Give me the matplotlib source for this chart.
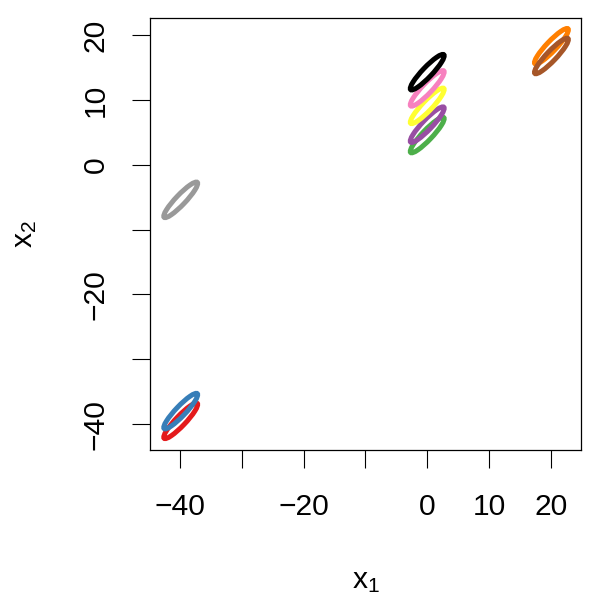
import matplotlib
matplotlib.use("Agg")
import matplotlib.pyplot as plt
from matplotlib.patches import Ellipse

plt.rcParams['font.family'] = ['Liberation Sans', 'DejaVu Sans']
plt.rcParams['mathtext.default'] = 'regular'

# ellipse centres
centre_x = [-39.9, -39.9, 0.0, 0.0, 0.0, 0.0, 0.0, 20.1, 20.1, -39.9]
centre_y = [-39.5, -38.0, 4.6, 6.2, 9.1, 11.8, 14.3, 18.3, 16.8, -5.4]
colors = ['#E41A1C', '#377EB8', '#4DAF4A', '#984EA3', '#FFFF33',
          '#F781BF', 'black', '#FF7F00', '#A65628', '#999999']
# semi axes of each contour (data units), tilted 45 degrees
major = 3.8
minor = 0.78

xticks = [-40, -30, -20, -10, 0, 10, 20]
xticklabels = ['\u221240', '', '\u221220', '', '0', '10', '20']
yticks = [-40, -30, -20, -10, 0, 10, 20]
yticklabels = ['\u221240', '', '\u221220', '', '0', '10', '20']

fig = plt.figure(figsize=(6, 6), dpi=100)
ax = fig.add_axes([0.25, 0.25, 0.719, 0.72])

for cx, cy, col in zip(centre_x, centre_y, colors):
    e = Ellipse((cx, cy), width=2 * major, height=2 * minor, angle=45,
                fill=False, edgecolor=col, linewidth=3.6)
    ax.add_patch(e)

ax.set_xlim(-44.87, 24.95)
ax.set_ylim(-44.0, 22.66)

ax.set_xticks(xticks)
ax.set_xticklabels(xticklabels)
ax.set_yticks(yticks)
ax.set_yticklabels(yticklabels, rotation=90, va='center')
ax.tick_params(length=13, width=0.8, labelsize=21.6)
ax.tick_params(axis='x', pad=18)
ax.tick_params(axis='y', pad=16)

for sp in ax.spines.values():
    sp.set_linewidth(0.9)

ax.set_xlabel('x$_1$', fontsize=21.6)
ax.xaxis.label.set_va('baseline')
ax.xaxis.set_label_coords(0.5, -0.319)
ax.set_ylabel('x$_2$', fontsize=21.6)
ax.yaxis.label.set_va('baseline')
ax.yaxis.set_label_coords(-0.272, 0.5)

fig.savefig('out.png', dpi=100)
